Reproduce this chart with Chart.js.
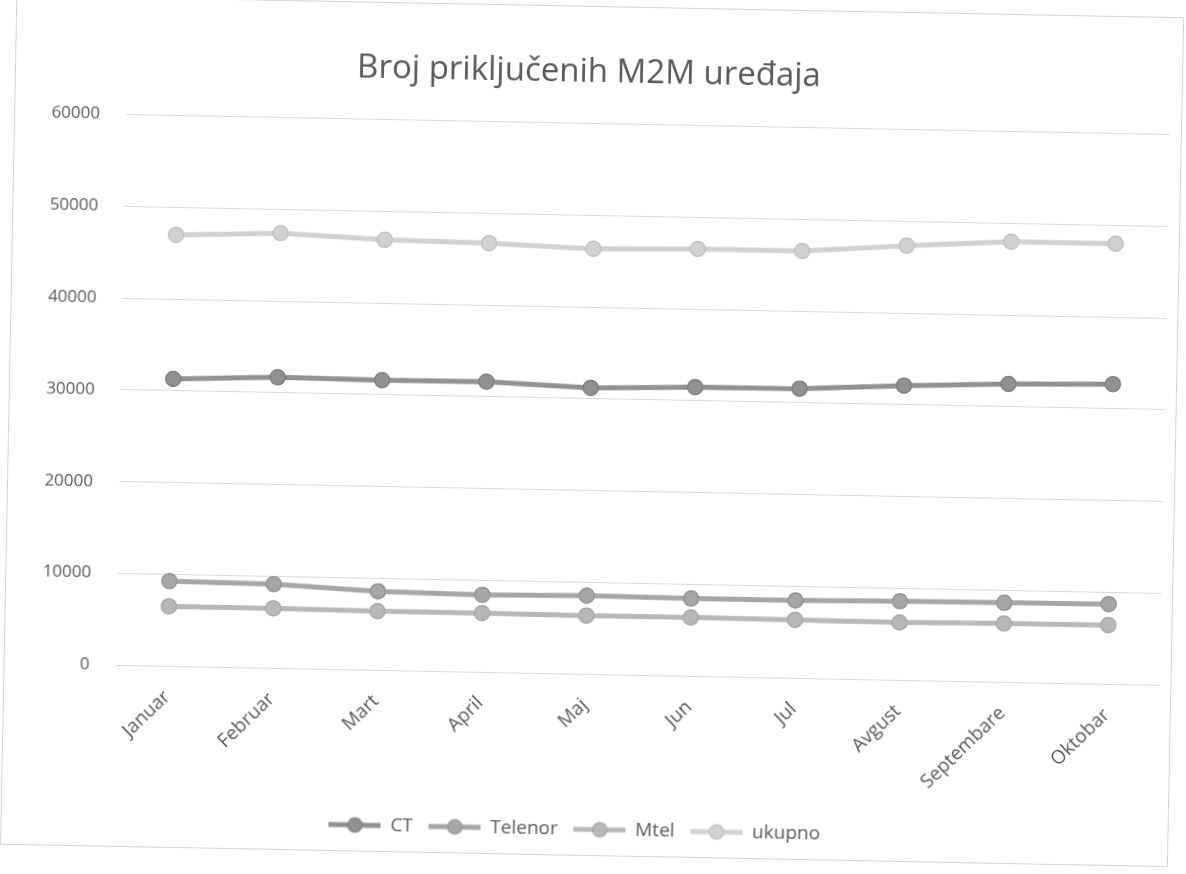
<!DOCTYPE html>
<html>
<head>
<meta charset="utf-8">
<script src="https://cdn.jsdelivr.net/npm/chart.js@4.4.1/dist/chart.umd.min.js"></script>
<style>
  html, body { margin: 0; padding: 0; background: #fff; }
  #sheet { position: absolute; left: 0; top: 0; width: 1186px; height: 874px; transform: rotate(1.1deg); }
  #frame { position: absolute; left: 8px; top: 6px; width: 1166px; height: 848px; border: 1px solid #d4d4d4; }
  #chart { position: absolute; left: 0; top: 0; }
</style>
</head>
<body>
<div id="sheet">
  <div id="frame"></div>
  <canvas id="chart" width="1186" height="874"></canvas>
</div>
<script>
const months = ['Januar', 'Februar', 'Mart', 'April', 'Maj', 'Jun', 'Jul', 'Avgust', 'Septembare', 'Oktobar'];
const ct = [31300, 31700, 31600, 31650, 31200, 31500, 31550, 32100, 32500, 32700];
const telenor = [9270, 9160, 8590, 8430, 8550, 8460, 8470, 8600, 8650, 8730];
const mtel = [6520, 6520, 6430, 6440, 6380, 6390, 6360, 6290, 6390, 6440];
const ukupno = [47000, 47400, 46900, 46750, 46350, 46550, 46550, 47350, 48000, 48000];
const yTicks = [0, 10000, 20000, 30000, 40000, 50000, 60000];

const names = ['CT', 'Telenor', 'Mtel', 'ukupno'];
const colors = ['#8f9291', '#a4a7a6', '#b6b9b8', '#cfd2d1'];
const edges = ['#7d807f', '#939695', '#a5a8a7', '#bfc2c1'];

// legend swatch: line with a circle marker in the middle, like Excel
function swatch(color, edge) {
  const c = document.createElement('canvas');
  c.width = 52; c.height = 18;
  const g = c.getContext('2d');
  g.strokeStyle = color; g.lineWidth = 5;
  g.beginPath(); g.moveTo(0, 9); g.lineTo(52, 9); g.stroke();
  g.fillStyle = color; g.strokeStyle = edge; g.lineWidth = 1.5;
  g.beginPath(); g.arc(26, 9, 7, 0, Math.PI * 2); g.fill(); g.stroke();
  return c;
}

const series = [ct, telenor, mtel, ukupno];
const datasets = series.map((d, i) => ({
  label: names[i],
  data: d,
  borderColor: colors[i],
  backgroundColor: colors[i],
  borderWidth: 5,
  pointRadius: 7.5,
  pointBackgroundColor: colors[i],
  pointBorderColor: edges[i],
  pointBorderWidth: 1.5,
  tension: 0
}));

const ctx = document.getElementById('chart');
new Chart(ctx, {
  type: 'line',
  data: { labels: months, datasets: datasets },
  options: {
    responsive: false,
    animation: false,
    layout: { padding: { left: 0, right: 22, top: 0, bottom: 25 } },
    plugins: {
      title: {
        display: true,
        text: 'Broj priključenih M2M uređaja',
        color: '#595959',
        font: { family: 'Open Sans', size: 33, weight: 'normal' },
        padding: { top: 53, bottom: 31 }
      },
      legend: {
        position: 'bottom',
        labels: {
          color: '#595959',
          font: { family: 'Open Sans', size: 19 },
          usePointStyle: true,
          pointStyleWidth: 52,
          boxHeight: 18,
          padding: 16,
          generateLabels: chart => chart.data.datasets.map((ds, i) => ({
            text: ds.label,
            fontColor: '#595959',
            pointStyle: swatch(colors[i], edges[i]),
            strokeStyle: 'transparent',
            fillStyle: 'transparent',
            lineWidth: 0,
            datasetIndex: i
          }))
        }
      },
      tooltip: { enabled: false }
    },
    scales: {
      x: {
        offset: true,
        grid: { display: false },
        border: { display: false },
        afterFit: s => { s.height += 5; },
        ticks: {
          color: '#595959',
          font: { family: 'Open Sans', size: 19 },
          minRotation: 45, maxRotation: 45,
          padding: 12
        }
      },
      y: {
        min: 0, max: 60000,
        afterBuildTicks: s => { s.ticks = yTicks.map(v => ({ value: v })); },
        afterFit: s => { s.width = 120; },
        grid: { color: '#d9d9d9', lineWidth: 1, drawTicks: false },
        border: { display: false },
        ticks: {
          color: '#595959',
          font: { family: 'Open Sans', size: 17 },
          padding: 26,
          callback: v => String(v)
        }
      }
    }
  }
});
</script>
</body>
</html>
